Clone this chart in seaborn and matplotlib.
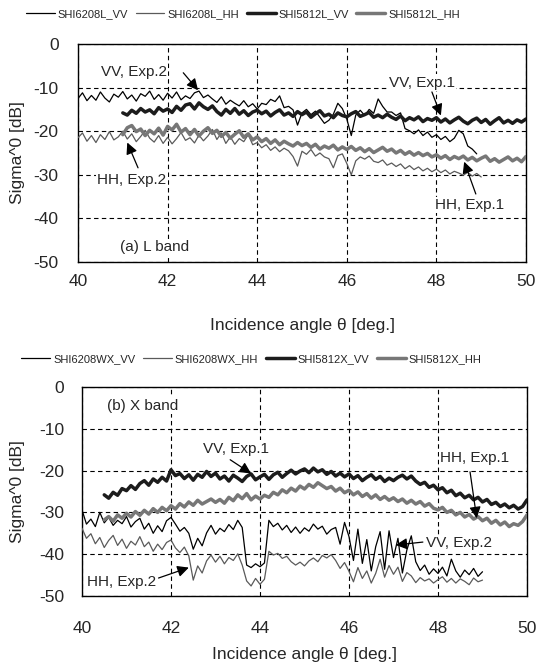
import numpy as np
import seaborn as sns
import matplotlib.pyplot as plt

# ------------------ DATA ------------------
# angle grid: first angle, step 0.1 deg
ANG_STEP = 0.1

# (a) L band
L_VV2_START = 40.0
L_VV2 = [-12.5, -11.2, -13.0, -11.8, -12.9, -11.0, -12.4, -13.3, -11.5, -12.2,
         -10.9, -12.6, -11.7, -13.1, -11.4, -12.0, -10.8, -12.7, -11.6, -12.9,
         -11.3, -12.4, -11.0, -12.8, -11.9, -12.5, -11.2, -10.8, -12.3, -11.7,
         -12.6, -13.4, -12.1, -13.8, -12.9, -13.6, -14.2, -13.0, -14.4, -13.7,
         -14.9, -13.6, -13.9, -12.7, -13.2, -11.9, -14.6, -14.3, -15.1, -18.6,
         -15.8, -15.0, -16.2, -15.4, -16.8, -18.2, -17.5, -16.1, -13.6, -14.8,
         -17.2, -21.0, -16.3, -15.2, -16.4, -15.0, -15.9, -12.6, -14.3, -15.6,
         -15.6, -16.4, -15.8, -19.4, -19.9, -20.6, -19.7, -21.0, -20.2, -21.4,
         -20.8, -21.9, -21.2, -22.4, -21.6, -19.8, -20.6, -23.4, -24.1, -25.2]

L_HH2_START = 40.0
L_HH2 = [-21.5, -20.4, -22.3, -21.0, -22.6, -20.8, -21.9, -20.1, -22.0, -21.3,
         -20.0, -21.8, -20.6, -22.4, -21.2, -19.8, -21.6, -22.5, -21.0, -22.8,
         -21.4, -22.9, -21.7, -20.3, -22.1, -21.5, -22.7, -20.9, -22.2, -21.1,
         -19.6, -21.9, -20.4, -22.8, -21.3, -23.0, -21.7, -22.4, -20.8, -23.1,
         -22.6, -23.8, -23.1, -24.4, -23.6, -24.7, -23.9, -24.5, -25.8, -28.0,
         -24.6, -25.3, -24.2, -25.7, -25.0, -25.9, -26.3, -28.4, -25.6, -25.2,
         -27.4, -30.0, -26.8, -25.9, -26.4, -25.7, -26.9, -27.2, -26.6, -27.8,
         -27.3, -28.1, -27.5, -28.6, -27.9, -28.8, -28.2, -29.1, -28.5, -29.3,
         -28.7, -29.5, -28.9, -29.8, -29.2, -29.6, -30.1, -29.4, -30.3, -29.7,
         -30.5]

L_VV1_START = 41.0
L_VV1 = [-15.8, -16.3, -15.2, -15.9, -14.8, -15.6, -15.1, -16.0, -14.6, -15.4,
         -14.9, -15.7, -14.3, -15.2, -14.0, -13.7, -14.9, -13.5, -14.4, -15.0,
         -14.2, -15.5, -16.3, -15.0, -15.9, -14.8, -16.1, -15.3, -16.4, -15.6,
         -15.2, -16.0, -15.4, -16.5, -15.7, -15.1, -16.3, -15.8, -16.6, -15.5,
         -16.2, -15.6, -16.8, -16.0, -15.3, -16.5, -16.1, -16.9, -15.8, -16.4,
         -16.7, -16.0, -15.5, -16.6, -16.2, -15.7, -16.8, -16.3, -16.9, -16.1,
         -16.8, -17.3, -16.5, -17.6, -16.9, -17.4, -16.7, -17.8, -17.1, -17.5,
         -16.9, -17.9, -17.2, -18.1, -17.4, -16.8, -17.7, -18.3, -17.5, -17.0,
         -18.0, -17.3, -18.4, -17.6, -16.9, -18.1, -17.5, -18.2, -17.4, -17.9,
         -17.2]

L_HH1_START = 41.0
L_HH1 = [-20.8, -19.2, -18.7, -20.1, -19.5, -21.0, -19.8, -20.6, -19.3, -20.9,
         -18.9, -19.7, -18.4, -20.2, -19.4, -20.8, -19.6, -21.1, -20.0, -19.2,
         -20.5, -19.8, -21.2, -20.3, -21.6, -20.7, -19.9, -21.4, -20.6, -22.0,
         -21.3, -22.4, -21.7, -22.8, -22.0, -23.1, -22.3, -22.9, -23.4, -22.6,
         -23.3, -22.8, -23.7, -23.0, -24.1, -23.4, -23.9, -23.2, -24.3, -23.6,
         -24.2, -23.5, -24.4, -23.8, -24.7, -24.0, -24.9, -24.3, -23.7, -24.6,
         -24.1, -25.0, -24.4, -25.3, -24.7, -25.5, -24.9, -25.6, -25.1, -25.9,
         -25.4, -26.2, -25.6, -26.5, -25.8, -26.3, -25.7, -26.6, -26.0, -26.8,
         -26.2, -25.7, -26.9, -26.3, -27.1, -26.5, -25.9, -26.8, -26.2, -27.0,
         -25.8]

# (b) X band
X_VV2_START = 40.0
X_VV2 = [-29.4, -32.8, -31.6, -33.4, -30.0, -32.5, -31.2, -33.1, -31.9, -32.7,
         -31.0, -33.5, -32.2, -31.4, -34.0, -32.6, -35.0, -33.2, -34.6, -32.0,
         -31.2, -32.8, -34.5, -33.6, -35.0, -38.8, -36.2, -38.0, -34.9, -33.1,
         -35.2, -33.8, -34.6, -32.9, -34.1, -31.9, -33.6, -42.6, -43.2, -42.3,
         -43.0, -42.1, -31.9, -33.4, -32.6, -34.2, -33.1, -34.8, -33.5, -35.0,
         -33.7, -34.5, -32.8, -34.0, -33.3, -35.2, -34.1, -33.6, -37.6, -32.4,
         -35.8, -41.5, -34.0, -42.2, -36.5, -44.0, -38.2, -34.6, -43.6, -34.4,
         -40.8, -36.2, -44.5, -39.0, -35.6, -41.8, -43.9, -42.6, -44.8, -43.5,
         -44.6, -43.1, -45.2, -41.2, -44.0, -45.5, -43.8, -44.9, -43.4, -45.3,
         -44.2]

X_HH2_START = 40.0
X_HH2 = [-33.8, -36.2, -35.1, -37.5, -36.0, -38.4, -36.7, -35.5, -37.9, -36.4,
         -38.6, -36.9, -37.8, -35.8, -38.2, -37.1, -39.3, -37.6, -38.9, -37.2,
         -36.6, -38.5, -39.6, -38.3, -40.4, -46.2, -42.8, -44.5, -41.6, -40.2,
         -41.9, -40.5, -42.3, -40.8, -41.5, -39.9, -42.6, -46.4, -47.6, -45.8,
         -47.2, -46.0, -39.3, -40.2, -39.8, -41.0, -40.5, -41.8, -42.6, -41.9,
         -42.8, -41.6, -40.9, -41.8, -40.3, -40.9, -40.1, -41.5, -43.4, -42.0,
         -44.1, -46.6, -43.2, -45.8, -44.0, -46.9, -44.6, -41.2, -45.5, -42.7,
         -44.8, -43.1, -46.5, -44.4, -45.2, -46.8, -45.6, -46.4, -45.9, -46.9,
         -46.1, -45.4, -46.7, -45.8, -46.9, -45.9, -46.5, -47.3, -45.7, -46.6,
         -46.2]

X_VV1_START = 40.5
X_VV1 = [-25.8, -26.6, -25.2, -25.9, -24.3,
         -24.8, -23.6, -24.5, -23.1, -22.4, -23.5, -22.0, -22.8, -21.6, -22.5,
         -19.8, -21.2, -20.7, -21.9, -21.0, -22.3, -20.9, -21.6, -20.2, -21.4,
         -20.6, -22.0, -21.3, -22.5, -21.1, -21.8, -22.6, -21.4, -20.8, -22.2,
         -21.5, -20.9, -22.1, -21.0, -20.4, -21.6, -20.7, -19.9, -20.8, -20.1,
         -19.6, -20.5, -19.4, -20.3, -19.8, -20.9, -20.2, -21.3, -20.6, -21.5,
         -20.8, -21.9, -21.2, -22.4, -21.6, -21.0, -22.1, -21.4, -22.6, -21.8,
         -22.4, -21.6, -21.1, -22.0, -21.3, -22.5, -23.3, -22.8, -24.0, -23.5,
         -24.6, -24.1, -25.3, -24.7, -26.0, -25.4, -26.5, -25.9, -27.0, -26.4,
         -27.5, -26.9, -28.1, -27.6, -28.6, -28.0, -28.9, -28.3, -29.2, -28.6,
         -27.0]

X_HH1_START = 40.5
X_HH1 = [-31.8, -31.0, -32.1, -30.6, -31.4,
         -30.2, -31.1, -29.8, -30.7, -29.5, -30.4, -29.1, -30.0, -28.8, -29.6,
         -28.4, -29.2, -27.9, -28.7, -27.5, -28.3, -27.1, -28.0, -27.4, -26.8,
         -27.6, -26.9, -27.8, -26.4, -27.2, -25.8, -26.7, -25.5, -27.0, -26.1,
         -26.8, -25.9, -26.4, -25.2, -25.8, -24.6, -25.3, -24.2, -24.9, -23.7,
         -24.4, -23.3, -24.0, -22.9, -23.6, -24.3, -23.8, -24.9, -24.2, -25.3,
         -24.7, -25.8, -25.1, -26.2, -25.5, -26.6, -25.8, -26.9, -26.2, -27.1,
         -26.5, -27.4, -26.8, -27.8, -27.1, -28.0, -27.4, -28.5, -27.9, -29.0,
         -29.4, -28.8, -30.0, -29.5, -30.6, -30.0, -31.1, -30.5, -31.6, -31.0,
         -32.0, -31.4, -32.6, -31.9, -33.0, -32.3, -33.4, -32.7, -33.1, -32.2,
         -30.6]

X_TICKS = [40, 42, 44, 46, 48, 50]
Y_TICKS = [0, -10, -20, -30, -40, -50]
# --------------------------------------------------------------------

THIN_BLACK = dict(color='black', lw=0.9)
THIN_GRAY = dict(color='#5a5a5a', lw=0.9)
THICK_BLACK = dict(color='#1c1c1c', lw=2.5)
THICK_GRAY = dict(color='#777777', lw=2.5)


def angles(start, values):
    return np.round(start + ANG_STEP * np.arange(len(values)), 2)


def draw_panel(ax, series, notes, band_text, band_xy):
    for name, start, vals, style in series:
        sns.lineplot(x=angles(start, vals), y=vals, ax=ax, label=name,
                     color=style['color'], linewidth=style['lw'], zorder=3)
    ax.set_xlim(40, 50)
    ax.set_ylim(-50, 0)
    ax.set_xticks(X_TICKS)
    ax.set_yticks(Y_TICKS)
    ax.grid(True, color='black', lw=0.8, ls=(0, (4, 3)))
    ax.tick_params(length=0, labelsize=12.5)
    for sp in ax.spines.values():
        sp.set_color('black')
        sp.set_linewidth(1.0)
    box = dict(facecolor='white', edgecolor='none', pad=1)
    for text, txy, tail, tip in notes:
        ax.annotate('', xy=tip, xytext=tail, zorder=5,
                    arrowprops=dict(arrowstyle='-|>', color='black', lw=0.9,
                                    mutation_scale=17, shrinkA=0, shrinkB=0))
        ax.text(txy[0], txy[1], text, ha='center', va='center', fontsize=11,
                bbox=box, zorder=4)
    ax.text(band_xy[0], band_xy[1], band_text, ha='left', va='center',
            fontsize=11, bbox=box, zorder=4)
    ax.set_ylabel('Sigma^0 [dB]', fontsize=12.5)
    ax.set_xlabel('Incidence angle \u03b8 [deg.]', fontsize=12.5)
    ax.xaxis.label.set_va('center')
    ax.yaxis.label.set_va('center')


sns.set_style('white')
plt.rcParams['font.family'] = ['Liberation Sans', 'DejaVu Sans']
plt.rcParams['axes.unicode_minus'] = False

fig = plt.figure(figsize=(5.37, 6.66), dpi=100)

# ---- (a) L band ----
ax1 = fig.add_axes([78 / 537, 1 - 262 / 666, 448 / 537, 218 / 666])
series_l = [('SHI6208L_VV', L_VV2_START, L_VV2, THIN_BLACK),
            ('SHI6208L_HH', L_HH2_START, L_HH2, THIN_GRAY),
            ('SHI5812L_VV', L_VV1_START, L_VV1, THICK_BLACK),
            ('SHI5812L_HH', L_HH1_START, L_HH1, THICK_GRAY)]
notes_l = [('VV, Exp.2', (41.25, -6.4), (42.35, -6.6), (42.68, -10.6)),
           ('HH, Exp.2', (41.2, -31.2), (41.34, -28.4), (41.1, -22.6)),
           ('VV, Exp.1', (47.68, -8.9), (47.9, -11.0), (48.1, -16.4)),
           ('HH, Exp.1', (48.73, -36.9), (48.88, -34.4), (48.62, -27.0))]
draw_panel(ax1, series_l, notes_l, '(a) L band', (40.94, -46.6))
ax1.xaxis.set_tick_params(pad=9)
ax1.yaxis.set_tick_params(pad=14)
ax1.xaxis.set_label_coords(0.5, -0.289)
ax1.yaxis.set_label_coords(-0.134, 0.5)
ax1.legend(loc='center left', bbox_to_anchor=(0.048, 1 - 14 / 666),
           bbox_transform=fig.transFigure, ncol=4, frameon=False, fontsize=8,
           handlelength=2.6, handletextpad=0.25, columnspacing=0.7,
           borderpad=0, borderaxespad=0)

# ---- (b) X band ----
ax2 = fig.add_axes([82 / 537, 1 - 596 / 666, 445 / 537, 209 / 666])
series_x = [('SHI6208WX_VV', X_VV2_START, X_VV2, THIN_BLACK),
            ('SHI6208WX_HH', X_HH2_START, X_HH2, THIN_GRAY),
            ('SHI5812X_VV', X_VV1_START, X_VV1, THICK_BLACK),
            ('SHI5812X_HH', X_HH1_START, X_HH1, THICK_GRAY)]
notes_x = [('VV, Exp.1', (43.45, -14.8), (43.33, -17.4), (43.8, -20.7)),
           ('HH, Exp.1', (48.83, -17.0), (48.72, -20.3), (48.87, -31.4)),
           ('VV, Exp.2', (48.47, -37.3), (47.66, -37.1), (47.05, -37.8)),
           ('HH, Exp.2', (40.9, -46.7), (41.72, -45.7), (42.4, -43.2))]
draw_panel(ax2, series_x, notes_x, '(b) X band', (40.56, -4.5))
ax2.xaxis.set_tick_params(pad=18)
ax2.yaxis.set_tick_params(pad=13)
ax2.xaxis.set_label_coords(0.5, -0.282)
ax2.yaxis.set_label_coords(-0.144, 0.5)
ax2.legend(loc='center left', bbox_to_anchor=(0.04, 1 - 359 / 666),
           bbox_transform=fig.transFigure, ncol=4, frameon=False, fontsize=8,
           handlelength=2.6, handletextpad=0.25, columnspacing=0.7,
           borderpad=0, borderaxespad=0)

fig.savefig('out.png', dpi=100)
